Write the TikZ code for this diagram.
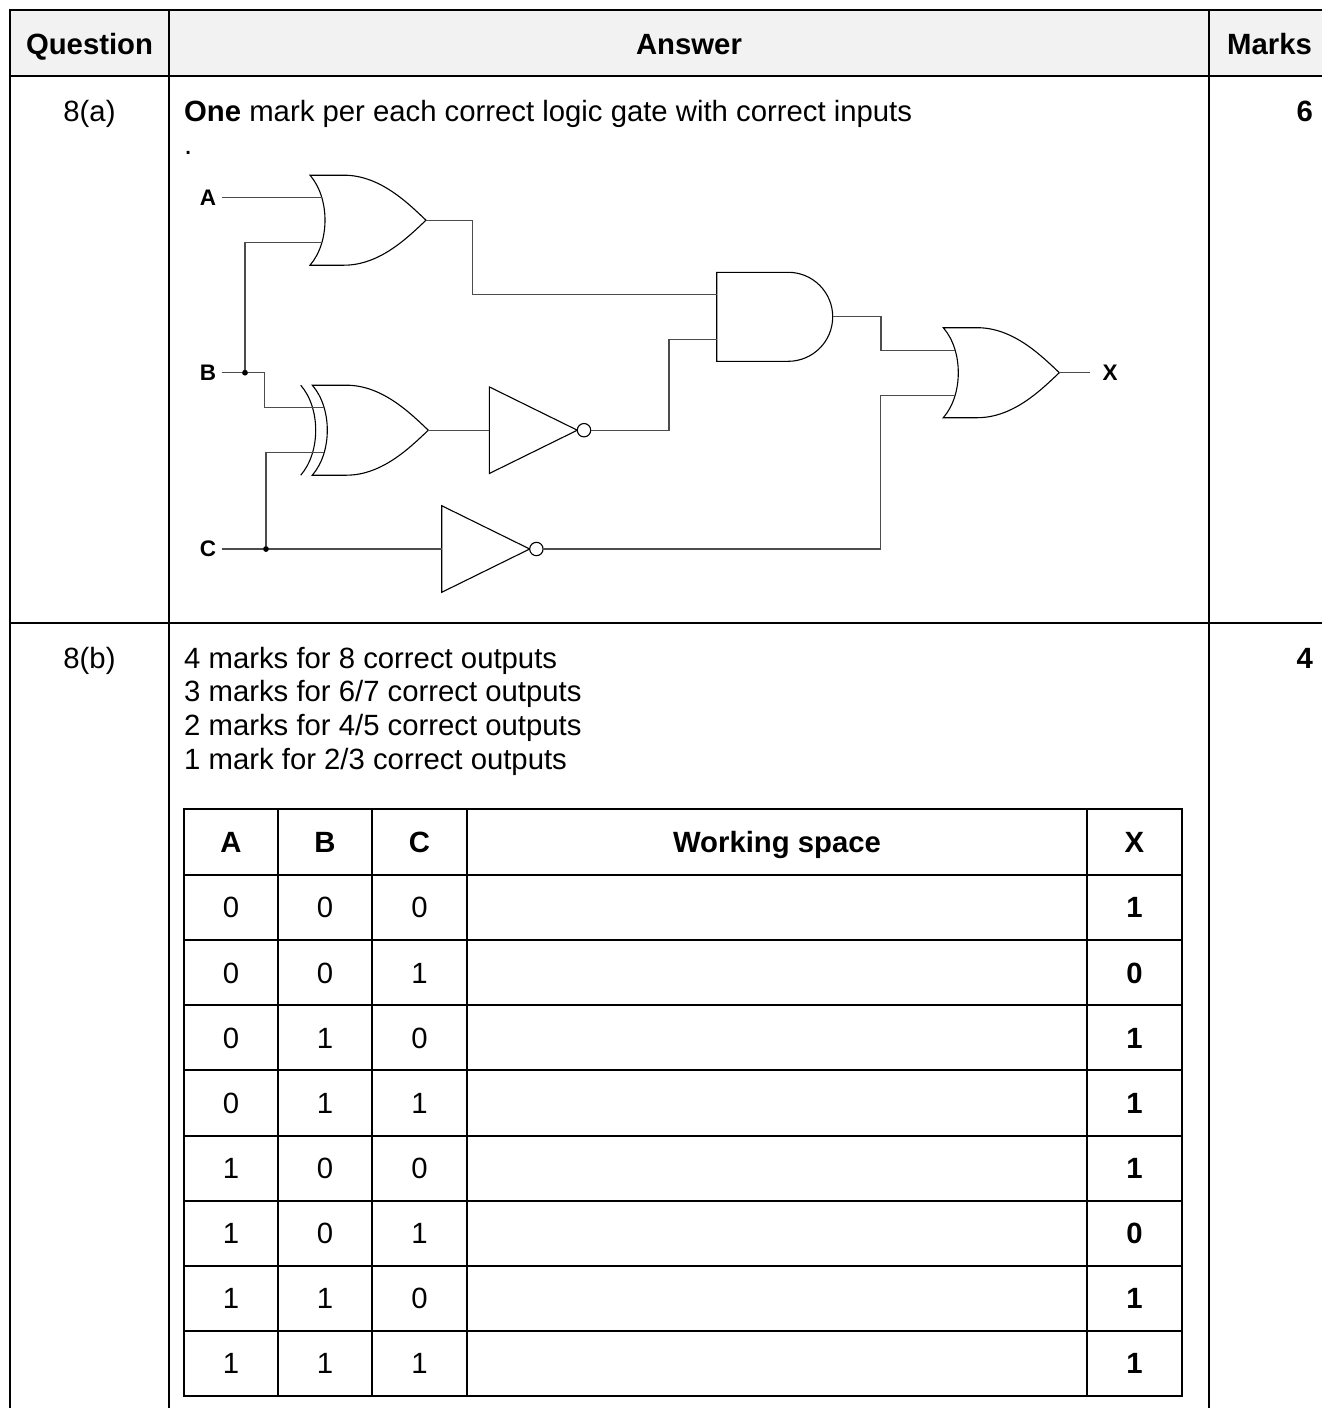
\documentclass[tikz,border=0pt]{standalone}
\usepackage{fontspec}
\setmainfont{Liberation Sans}
\begin{document}
\begin{tikzpicture}[x=1pt,y=-1pt,
  tline/.style={line width=2pt, draw=black, line cap=rect},
  wire/.style={line width=1.3pt, draw=black!70},
  gate/.style={line width=1.1pt, draw=black, fill=white},
  txt/.style={inner sep=0pt, font=\fontsize{29.3}{33.7}\selectfont},
  lab/.style={inner ysep=0pt, inner xsep=5.5pt, font=\fontsize{22.5}{25}\selectfont\bfseries},
  jdot/.style={circle, fill=black, inner sep=0pt, minimum size=5.5pt},
  orgate/.pic={
    \draw[gate] (0,-45) -- (34,-45) .. controls (70,-45) and (98,-17) .. (116,0)
      .. controls (98,17) and (70,45) .. (34,45) -- (0,45)
      .. controls (20,22) and (20,-22) .. (0,-45) -- cycle;
    \coordinate (-in1) at (11.8,-22.5);
    \coordinate (-in2) at (11.8,22.5);
    \coordinate (-out) at (116,0);
  },
  xorgate/.pic={
    \draw[gate] (0,-45) -- (34,-45) .. controls (70,-45) and (98,-17) .. (116,0)
      .. controls (98,17) and (70,45) .. (34,45) -- (0,45)
      .. controls (20,22) and (20,-22) .. (0,-45) -- cycle;
    \draw[gate, fill=none] (-11.6,-45) .. controls (8.4,-22) and (8.4,22) .. (-11.6,45);
    \coordinate (-in1) at (11.8,-22.5);
    \coordinate (-in2) at (11.8,22.5);
    \coordinate (-out) at (116,0);
  },
  andgate/.pic={
    \draw[gate] (0,-44.5) -- (71.5,-44.5) arc[start angle=-90, end angle=90, radius=44.5]
      -- (0,44.5) -- cycle;
    \coordinate (-in1) at (0,-22.5);
    \coordinate (-in2) at (0,22.5);
    \coordinate (-out) at (116,0);
  },
  notgate/.pic={
    \draw[gate] (0,-43.3) -- (88,0) -- (0,43.3) -- cycle;
    \draw[gate] (94.7,0) circle[radius=6.7];
    \coordinate (-in) at (0,0);
    \coordinate (-out) at (101.4,0);
  }
]
\useasboundingbox (0,0) rectangle (1322,1408);
\fill[black!5] (10,10) rectangle (1322,76);
% outer table
\draw[tline] (10,10) -- (1330,10);
\draw[tline] (10,76) -- (1330,76);
\draw[tline] (10,623) -- (1330,623);
\draw[tline] (10,10) -- (10,1420);
\draw[tline] (169,10) -- (169,1420);
\draw[tline] (1209,10) -- (1209,1420);
% header
\node[txt, anchor=base] (hq) at (89.5,54) {\bfseries Question};
\node[txt, anchor=base] (ha) at (689,54) {\bfseries Answer};
\node[txt, anchor=base] (hm) at (1269.5,54) {\bfseries Marks};
% row a
\node[txt, anchor=base] (qa) at (89.5,121) {8(a)};
\node[txt, anchor=base west] (ta1) at (184,121) {\textbf{One} mark per each correct logic gate with correct inputs};
\node[txt, anchor=base west] (ta2) at (184,154.5) {.};
\node[txt, anchor=base east] (ma) at (1313,121) {\textbf{6}};
% row b
\node[txt, anchor=base] (qb) at (89.5,668) {8(b)};
\node[txt, anchor=base west] (tb1) at (184,668) {4 marks for 8 correct outputs};
\node[txt, anchor=base west] (tb2) at (184,701.7) {3 marks for 6/7 correct outputs};
\node[txt, anchor=base west] (tb3) at (184,735.4) {2 marks for 4/5 correct outputs};
\node[txt, anchor=base west] (tb4) at (184,769.1) {1 mark for 2/3 correct outputs};
\node[txt, anchor=base east] (mb) at (1313,668) {\textbf{4}};
% truth table
\foreach \xx in {184,278,372,467,1087,1182}
  \draw[tline] (\xx,809) -- (\xx,1396);
\draw[tline] (184,809) -- (1182,809);
\foreach \k in {0,...,8}
  \draw[tline] (184,{875+65.125*\k}) -- (1182,{875+65.125*\k});
\node[txt, anchor=base] (tha) at (231,852.5) {\bfseries A};
\node[txt, anchor=base] (thb) at (325,852.5) {\bfseries B};
\node[txt, anchor=base] (thc) at (419.5,852.5) {\bfseries C};
\node[txt, anchor=base] (thw) at (777,852.5) {\bfseries Working space};
\node[txt, anchor=base] (thx) at (1134.5,852.5) {\bfseries X};
\foreach [count=\r] \va/\vb/\vc/\vx in {0/0/0/1,0/0/1/0,0/1/0/1,0/1/1/1,1/0/0/1,1/0/1/0,1/1/0/1,1/1/1/1} {
  \pgfmathsetmacro\yb{875+65.125*(\r-1)+32.56+10.4}
  \node[txt, anchor=base] (ca\r) at (231,\yb) {\va};
  \node[txt, anchor=base] (cb\r) at (325,\yb) {\vb};
  \node[txt, anchor=base] (cc\r) at (419.5,\yb) {\vc};
  \node[txt, anchor=base] (cx\r) at (1134.5,\yb) {\textbf{\vx}};
}
% circuit gates
\pic (or1) at (310,220.2) {orgate};
\pic (xor) at (312.3,430.2) {xorgate};
\pic (and) at (716.7,316.8) {andgate};
\pic (or2) at (943.3,372.7) {orgate};
\pic (not1) at (489.3,430.2) {notgate};
\pic (not2) at (441.7,549) {notgate};
% labels
\node[lab, anchor=east] (lA) at (221.7,197.7) {A};
\node[lab, anchor=east] (lB) at (221.7,372.7) {B};
\node[lab, anchor=east] (lC) at (221.7,549) {C};
\node[lab, anchor=west, inner xsep=12.5pt] (lX) at (1090,372.7) {X};
\node[jdot] (jb) at (245,372.7) {};
\node[jdot] (jc) at (266,549) {};
% wires
\draw[wire] (lA.east) -- (or1-in1);
\draw[wire] (lB.east) -- (jb.center) -- ++(19.5,0) |- (xor-in1);
\draw[wire] (jb.center) |- (or1-in2);
\draw[wire] (lC.east) -- (not2-in);
\draw[wire] (jc.center) |- (xor-in2);
\draw[wire] (or1-out) -- ++(46.7,0) |- (and-in1);
\draw[wire] (xor-out) -- (not1-in);
\draw[wire] (not1-out) -- ++(78.3,0) |- (and-in2);
\draw[wire] (and-out) -- ++(48.2,0) |- (or2-in1);
\draw[wire] (not2-out) -- ++(337.6,0) |- (or2-in2);
\draw[wire] (or2-out) -- (lX.west);
\node[jdot] (jb2) at (jb) {};
\node[jdot] (jc2) at (jc) {};
\end{tikzpicture}
\end{document}
